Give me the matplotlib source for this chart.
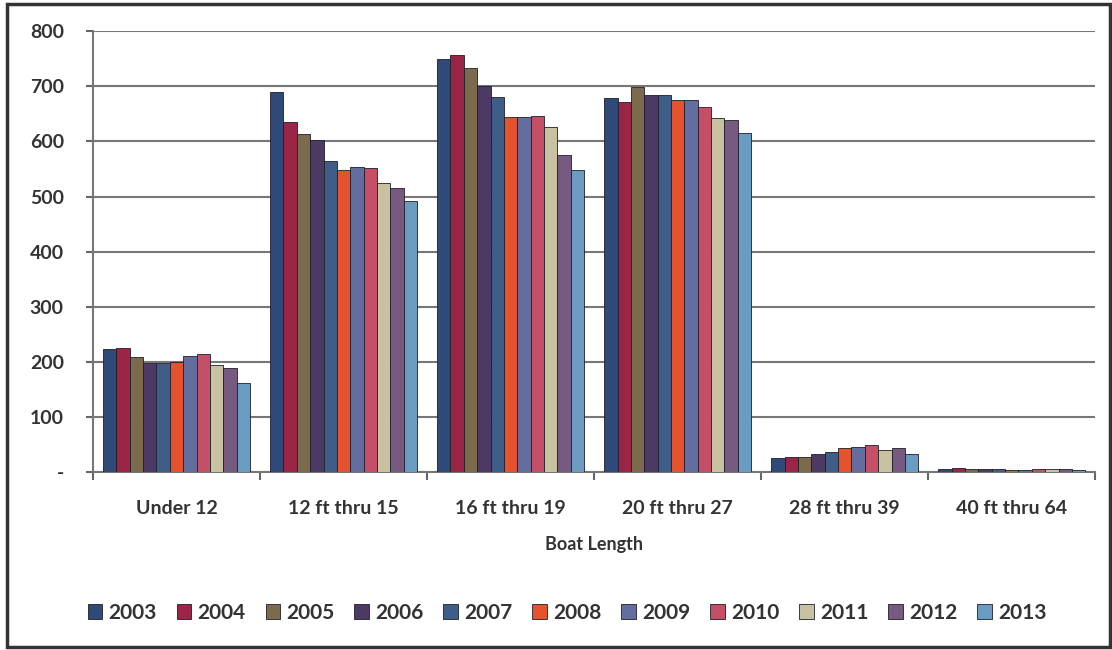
import matplotlib
matplotlib.use("Agg")
import matplotlib.pyplot as plt
import numpy as np
from matplotlib.patches import Rectangle

categories = ["Under 12", "12 ft thru 15", "16 ft thru 19", "20 ft thru 27", "28 ft thru 39", "40 ft thru 64"]
years = ["2003", "2004", "2005", "2006", "2007", "2008", "2009", "2010", "2011", "2012", "2013"]
values = {
    "2003": [223, 690, 749, 678, 25, 5],
    "2004": [225, 636, 756, 671, 27, 8],
    "2005": [209, 613, 734, 698, 28, 6],
    "2006": [198, 602, 700, 685, 33, 5],
    "2007": [198, 564, 680, 684, 36, 5],
    "2008": [200, 549, 644, 675, 43, 4],
    "2009": [211, 554, 644, 675, 45, 4],
    "2010": [214, 552, 647, 663, 49, 5],
    "2011": [195, 525, 627, 643, 40, 5],
    "2012": [189, 516, 576, 638, 44, 6],
    "2013": [162, 491, 549, 616, 33, 4],
}
colors = ["#2f4a78", "#9a2546", "#7b6a4c", "#4d3a64", "#3e5e88", "#e5522e",
          "#636e9e", "#c64f68", "#c9c2a2", "#765a80", "#6a9bc0"]
yticks = [0, 100, 200, 300, 400, 500, 600, 700, 800]
yticklabels = ["-", "100", "200", "300", "400", "500", "600", "700", "800"]

plt.rcParams["font.family"] = ["Lato", "DejaVu Sans"]
fig = plt.figure(figsize=(11.12, 6.5), dpi=100)
ax = fig.add_axes([0.0836, 0.2738, 0.9014, 0.6782])

x = np.arange(len(categories))
n = len(years)
w = 0.88 / n
for i, yr in enumerate(years):
    ax.bar(x - 0.44 + w * (i + 0.5), values[yr], width=w, color=colors[i],
           edgecolor="#1e1e2a", linewidth=0.6, label=yr, zorder=3)

ax.set_xlim(-0.5, len(categories) - 0.5)
ax.set_ylim(0, 800)
ax.set_yticks(yticks)
ax.set_yticklabels(yticklabels, fontsize=14, fontweight="bold", color="#333333")
ax.set_xticks(x)
ax.set_xticklabels(categories, fontsize=14, fontweight="bold", color="#333333")
ax.set_xticks(np.arange(-0.5, len(categories)), minor=True)
ax.tick_params(axis="x", which="major", length=0, pad=20)
ax.tick_params(axis="x", which="minor", length=6, width=1.5, color="#666666", direction="out")
ax.tick_params(axis="y", length=5, width=1.5, color="#666666", pad=16)
ax.set_xlabel("Boat Length", fontsize=13, fontweight="bold", color="#333333", labelpad=14)
ax.grid(axis="y", color="#777777", linewidth=1.5, zorder=0)
for s in ["top", "right"]:
    ax.spines[s].set_visible(False)
ax.spines["left"].set_color("#777777")
ax.spines["left"].set_linewidth(1.5)
ax.spines["bottom"].set_color("#777777")
ax.spines["bottom"].set_linewidth(1.5)

fig.legend(loc="center", bbox_to_anchor=(0.51, 0.057), ncol=n, frameon=False,
           prop={"size": 15, "weight": "bold"}, handlelength=0.7, handleheight=0.7,
           handletextpad=0.3, columnspacing=0.95, labelcolor="#333333")

fig.patches.append(Rectangle((0.0063, 0.0046), 0.9917, 0.9894, transform=fig.transFigure,
                             fill=False, edgecolor="#333333", linewidth=2.5))
fig.savefig("out.png", dpi=100)
